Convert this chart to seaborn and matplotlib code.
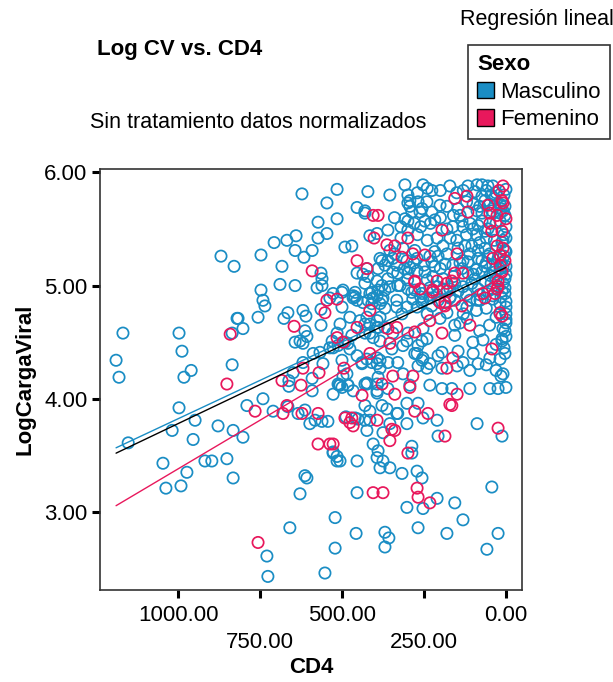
import numpy as np
import pandas as pd
import matplotlib
matplotlib.use("Agg")
import matplotlib.pyplot as plt
from matplotlib.patches import Patch
from matplotlib.ticker import FixedLocator, FormatStrFormatter
import seaborn as sns

# ---------------- data (CD4, LogCargaViral) ----------------
masculino_pts = [
    (1168,4.58),(1189,4.34),(1180,4.19),(997,4.58),(988,4.42),(960,4.25),(982,4.19),(997,3.92),
    (835,4.58),(820,4.71),(835,4.30),(1152,3.61),(1046,3.43),(1037,3.21),(1018,3.72),(973,3.35),
    (991,3.23),(954,3.64),(948,3.81),(918,3.45),(897,3.45),(878,3.76),(851,3.47),(832,3.72),
    (832,3.30),(802,3.66),(790,3.94),(741,4.00),(710,3.89),(665,3.93),(634,3.87),(613,3.90),
    (598,3.78),(561,3.80),(543,3.80),(527,3.53),(515,3.49),(613,3.32),(607,3.30),(628,3.16),
    (659,2.86),(729,2.61),(726,2.43),(552,2.46),(521,2.68),(521,2.95),
    (622,5.81),(515,5.85),(546,5.73),(573,5.56),(515,5.59),(546,5.46),(573,5.42),(640,5.44),
    (668,5.40),(707,5.38),(643,5.31),(591,5.31),(616,5.25),(747,5.27),(869,5.26),(829,5.17),
    (683,5.17),(564,5.11),(561,5.06),(689,5.01),(643,5.00),(576,4.98),(561,5.00),(747,4.96),
    (741,4.87),(735,4.82),(756,4.72),(817,4.71),(802,4.62),(665,4.76),(677,4.71),(619,4.78),
    (610,4.73),(564,4.79),(564,4.65),(613,4.60),(607,4.55),(643,4.50),(628,4.51),(619,4.49),
    (619,4.32),(567,4.41),(530,4.51),(515,4.58),(649,4.23),(591,4.18),(558,4.31),(662,4.16),
    (662,4.11),(591,4.07),(500,4.10),
    (421,5.83),(454,5.69),(430,5.66),(430,5.64),(393,5.46),(415,5.44),(491,5.34),(470,5.35),
    (384,5.24),(424,5.15),(454,5.11),(436,5.10),(421,5.08),(393,5.04),(430,5.02),(527,4.93),
    (497,4.96),(466,4.91),(460,4.90),(415,4.93),(390,4.96),
    (466,4.89),(454,4.87),(421,4.87),(405,4.89),(500,4.81),(430,4.66),(393,4.69),(393,4.63),
    (415,4.58),(537,4.45),(512,4.47),(482,4.49),(476,4.44),(454,4.38),(424,4.35),(393,4.36),
    (439,4.32),(409,4.32),(393,4.31),(588,4.40),(497,4.20),(509,4.12),(482,4.12),(527,4.04),
    (430,3.94),(424,4.14),(393,4.13),(393,4.05),(488,3.84),(451,3.82),(415,3.81),(415,3.89),
    (582,3.81),
    (308,5.89),(253,5.89),(226,5.84),(171,5.88),(116,5.88),(88,5.89),(73,5.89),(55,5.88),
    (40,5.88),(354,5.80),(299,5.80),(293,5.75),(299,5.73),(268,5.74),(241,5.74),(201,5.71),
    (73,5.79),(64,5.75),(34,5.77),(18,5.72),(293,5.70),(256,5.68),(287,5.65),(262,5.65),
    (226,5.65),(180,5.70),(146,5.68),(140,5.62),(88,5.66),(73,5.64),(43,5.66),(18,5.64),
    (9,5.66),(3,5.62),(308,5.59),(299,5.57),(247,5.57),(217,5.58),(180,5.50),(162,5.52),
    (134,5.57),(131,5.52),(110,5.55),(101,5.50),(85,5.53),(73,5.57),(64,5.48),(18,5.57),
    (0,5.42),(9,5.40),(360,5.49),(299,5.49),(354,5.31),(339,5.28),(314,5.33),(278,5.31),
    (217,5.30),(192,5.35),(180,5.28),(146,5.33),(125,5.35),(104,5.35),(85,5.31),(64,5.33),
    (49,5.28),(3,5.31),(24,5.24),(345,5.24),(333,5.18),(302,5.22),(271,5.24),(232,5.26),
    (207,5.26),(226,5.21),(217,5.17),(186,5.19),(162,5.18),(131,5.22),(116,5.21),(85,5.24),
    (73,5.22),(55,5.26),(18,5.27),(0,5.17),(390,5.15),(369,5.18),(345,5.12),(330,5.11),
    (360,5.06),(299,5.11),(247,5.12),(223,5.08),(192,5.06),(134,5.15),(116,5.11),(95,5.06),
    (73,5.12),(64,5.17),(49,5.09),(34,5.12),(18,5.15),(9,5.17),(3,5.06),(378,5.00),
    (354,4.99),(323,5.00),(299,4.97),(278,4.96),(256,4.93),(210,4.99),(171,4.97),(156,5.02),
    (146,4.95),(131,4.99),(104,5.02),(85,4.97),(64,5.04),(40,4.97),(12,4.95),
    (378,5.22),(360,5.22),(293,5.16),(271,5.13),(460,4.94),(409,4.94),(405,4.89),(393,4.91),
    (369,4.96),(375,4.89),(330,5.00),(287,4.94),(232,4.98),(192,4.97),(537,4.89),(500,4.94),
    (436,4.85),(409,4.84),(384,4.84),(369,4.80),(333,4.81),(317,4.75),(302,4.81),(271,4.81),
    (253,4.87),(232,4.89),(171,4.89),(119,4.81),(88,4.87),(40,4.91),(3,4.93),(18,4.84),
    (0,4.81),
    (378,4.87),(333,4.87),(284,4.88),(256,4.85),(226,4.82),(207,4.87),(156,4.87),(110,4.87),
    (79,4.87),(40,4.88),(18,4.75),(0,4.75),(0,4.86),(390,4.63),(299,4.58),(253,4.62),
    (201,4.71),(156,4.65),(156,4.56),(140,4.67),(119,4.71),(101,4.50),(3,4.60),(12,4.53),
    (0,4.67),(348,4.44),(314,4.47),(268,4.47),(256,4.51),(241,4.53),(278,4.40),(253,4.36),
    (207,4.38),(195,4.41),(146,4.42),(131,4.32),(85,4.31),(49,4.36),(18,4.35),(12,4.51),
    (384,4.34),(360,4.32),(330,4.32),(268,4.29),(241,4.27),(195,4.27),(149,4.29),(110,4.25),
    (9,4.22),(390,4.19),(314,4.22),(293,4.12),(232,4.12),(195,4.09),(165,4.09),(110,4.09),
    (49,4.09),(24,4.09),(393,4.07),(360,4.09),(302,3.96),(268,3.96),(330,3.87),(363,3.91),
    (378,3.94),
    (527,4.45),(491,4.50),(470,4.56),(506,4.66),(476,4.72),(445,4.69),(424,4.72),(415,4.66),
    (384,4.72),(369,4.63),(430,4.58),(405,4.54),(384,4.51),(345,4.58),(302,4.51),(384,4.27),
    (500,4.34),(485,4.22),(439,4.31),(424,4.13),(256,4.34),(271,4.40),(232,4.31),(512,4.13),
    (466,4.07),
    (506,4.12),(482,4.12),(430,4.13),(460,3.83),(430,3.81),(424,3.72),(375,3.70),(354,3.78),
    (333,3.87),(302,3.78),(253,3.83),(210,3.81),(207,3.67),(88,3.78),(12,3.67),(527,3.52),
    (515,3.45),(506,3.45),(454,3.45),(405,3.60),(390,3.54),(393,3.48),(375,3.45),(384,3.39),
    (354,3.39),(317,3.34),(287,3.58),(287,3.52),(271,3.36),(256,3.30),(454,3.17),(210,3.12),
    (302,3.04),(253,3.03),(156,3.08),(43,3.22),(131,2.93),(457,2.81),(369,2.82),(357,2.77),
    (369,2.69),(268,2.86),(180,2.81),(58,2.67),(24,2.81),
    (0,5.85),(6,5.80),(3,5.70),(15,5.68),(0,5.52),(6,5.45),(12,5.38),(0,5.30),
    (6,5.26),(15,5.20),(0,5.10),(9,5.02),(3,4.98),(15,4.90),(0,4.70),(9,4.62),
    (0,4.55),(6,4.45),(3,4.40),(15,4.20),(0,4.10),(30,5.82),(45,5.80),(60,5.84),
    (95,5.83),(130,5.84),(150,5.82),(200,5.84),(240,5.86),(270,5.82),(35,5.70),(50,5.72),
    (80,5.70),(100,5.72),(120,5.74),(160,5.62),(200,5.60),(230,5.55),(260,5.52),(280,5.55),
    (320,5.52),(340,5.60),(30,5.55),(55,5.50),(90,5.45),(120,5.45),(150,5.40),(170,5.42),
    (210,5.42),(240,5.40),(270,5.45),(320,5.42),(35,5.40),(60,5.42),(80,5.38),(110,5.28),
    (140,5.20),(200,5.15),(250,5.18),(280,5.20),(310,5.15),(40,5.18),(60,5.20),(90,5.14),
    (100,5.10),(160,5.08),(240,5.05),(300,5.05),(30,5.05),(45,5.02),(55,4.95),(80,4.92),
    (120,4.92),(170,4.90),(210,4.92),(260,4.90),(60,4.80),(90,4.78),(130,4.75),(180,4.76),
    (240,4.75),(30,4.72),(50,4.65),(80,4.60),(70,4.52),(30,4.48),(100,4.40),(60,4.30),
    (30,4.25),
]

femenino_pts = [
    (841,4.57),(851,4.13),(765,3.89),(680,3.87),(573,3.87),(573,3.60),(527,3.60),(756,2.73),
    (591,5.13),(646,4.64),(546,4.87),(515,4.88),(552,4.76),(619,4.27),(570,4.23),(683,4.16),
    (625,4.12),(494,4.27),(405,5.62),(402,5.42),(454,5.22),(424,5.15),(415,4.78),(454,4.63),
    (515,4.54),(497,4.50),(470,3.83),(439,4.03),(622,3.87),(668,3.94),
    (9,5.88),(21,5.84),(156,5.77),(119,5.79),(12,5.75),(9,5.73),(55,5.71),(116,5.65),
    (49,5.64),(27,5.62),(0,5.59),(390,5.62),(195,5.49),(49,5.55),(43,5.48),(12,5.48),
    (363,5.36),(339,5.35),(299,5.42),(247,5.27),(149,5.28),(27,5.35),(9,5.33),(18,5.27),
    (40,5.24),(3,5.22),(18,5.18),(278,5.04),(210,5.04),(180,5.02),(156,5.11),(131,5.11),
    (12,5.12),(24,5.04),(223,4.96),(180,4.95),(24,4.99),(34,4.93),(317,5.25),(284,5.28),
    (278,5.03),(262,4.97),(223,4.94),(165,5.04),(201,4.85),(186,4.85),(70,4.93),(27,4.97),
    (12,4.73),(186,4.82),(134,4.82),(64,4.89),(18,4.76),(360,4.62),(333,4.63),(278,4.59),
    (232,4.69),(195,4.58),(110,4.65),(162,4.36),(43,4.44),(180,4.27),(378,4.13),(345,4.20),
    (284,4.20),(149,4.04),(165,3.94),(339,4.04),(238,3.87),(354,4.49),(415,4.40),(293,4.10),
    (171,3.95),(491,3.83),(476,3.79),(466,3.76),(393,3.81),(348,3.73),(339,3.72),(278,3.89),
    (186,3.67),(24,3.74),(537,3.60),(299,3.52),(354,3.63),(405,3.17),(375,3.17),(271,3.21),
    (268,3.13),(232,3.08),
]

sexo_labels = ["Masculino", "Femenino"]
sexo_colors = ["#1a8dc4", "#e8185c"]

# fitted linear regressions: LogCV = intercept + slope * CD4
fit_groups = ["Masculino", "Femenino", "Total"]
fit_intercepts = [5.18, 5.10, 5.16]
fit_slopes = [-0.001357, -0.00172, -0.00138]
fit_colors = ["#1a8dc4", "#e8185c", "#000000"]

y_ticks = [3.0, 4.0, 5.0, 6.0]
x_ticks_major = [1000.0, 500.0, 0.0]
x_ticks_minor = [750.0, 250.0]

# ---------------- build tables ----------------
cd4_m, lcv_m = zip(*masculino_pts)
cd4_f, lcv_f = zip(*femenino_pts)
df = pd.DataFrame({
    "CD4": list(cd4_m) + list(cd4_f),
    "LogCargaViral": list(lcv_m) + list(lcv_f),
    "Sexo": [sexo_labels[0]] * len(cd4_m) + [sexo_labels[1]] * len(cd4_f),
})

x_lo, x_hi = df["CD4"].min(), df["CD4"].max()
fit_rows = []
for g, b0, b1 in zip(fit_groups, fit_intercepts, fit_slopes):
    for xv in np.linspace(x_lo, x_hi, 50):
        fit_rows.append({"CD4": xv, "LogCargaViral": b0 + b1 * xv, "grupo": g})
fit_df = pd.DataFrame(fit_rows)

# ---------------- plot ----------------
sns.set_style("white")
plt.rcParams["font.family"] = ["Liberation Sans", "DejaVu Sans"]
plt.rcParams["text.color"] = "black"
plt.rcParams["axes.labelcolor"] = "black"
plt.rcParams["xtick.color"] = "black"
plt.rcParams["ytick.color"] = "black"

fig = plt.figure(figsize=(6.13, 6.82), dpi=100)
ax = fig.add_axes([100 / 613, 1 - 590 / 682, 422 / 613, 421 / 682])

sns.scatterplot(data=df, x="CD4", y="LogCargaViral", hue="Sexo",
                hue_order=sexo_labels, palette=sexo_colors, marker="o",
                s=66, legend=False, ax=ax)
pts = ax.collections[-1]
fc = pts.get_facecolors()
pts.set_edgecolors(fc)
pts.set_facecolors("none")
pts.set_linewidths(1.25)

sns.lineplot(data=fit_df, x="CD4", y="LogCargaViral", hue="grupo",
             hue_order=fit_groups, palette=fit_colors, linewidth=1.0,
             legend=False, ax=ax, sort=True, estimator=None)

ax.set_xlim(1238, -49)
ax.set_ylim(2.31, 6.03)

ax.yaxis.set_major_locator(FixedLocator(y_ticks))
ax.yaxis.set_major_formatter(FormatStrFormatter("%.2f"))
ax.xaxis.set_major_locator(FixedLocator(x_ticks_major))
ax.xaxis.set_minor_locator(FixedLocator(x_ticks_minor))
ax.xaxis.set_major_formatter(FormatStrFormatter("%.2f"))
ax.xaxis.set_minor_formatter(FormatStrFormatter("%.2f"))

ax.tick_params(axis="both", which="both", direction="out", length=6, width=2.2,
               color="black", labelsize=16, labelcolor="black")
ax.tick_params(axis="x", which="major", pad=5)
ax.tick_params(axis="x", which="minor", pad=24)
ax.tick_params(axis="y", which="major", pad=3, left=True)
ax.tick_params(axis="x", which="both", bottom=True)

for sp in ax.spines.values():
    sp.set_color("#333333")
    sp.set_linewidth(1.2)

ax.set_xlabel("CD4", fontsize=16, fontweight="bold", labelpad=3, color="black")
ax.set_ylabel("LogCargaViral", fontsize=16, fontweight="bold", labelpad=6, color="black")

fig.text(97 / 613, 1 - 50 / 682, "Log CV vs. CD4", fontsize=16,
         fontweight="bold", ha="left", va="center", color="black")
fig.text(90 / 613, 1 - 123 / 682, "Sin tratamiento datos normalizados",
         fontsize=15.5, ha="left", va="center", color="black")
fig.text(537 / 613, 1 - 20 / 682, "Regresión lineal", fontsize=15.5,
         ha="center", va="center", color="black")

handles = [Patch(facecolor=c, edgecolor="black", linewidth=1.0) for c in sexo_colors]
leg = fig.legend(handles, sexo_labels, title="Sexo", loc="upper left",
                 bbox_to_anchor=(468 / 613, 1 - 45 / 682), frameon=True,
                 fancybox=False, fontsize=16,
                 title_fontproperties={"weight": "bold", "size": 16},
                 alignment="left", handlelength=0.75, handleheight=0.75,
                 handletextpad=0.3, labelspacing=0.3, borderpad=0.4,
                 borderaxespad=0.0, labelcolor="black")
leg.get_title().set_color("black")
leg.get_frame().set_edgecolor("black")
leg.get_frame().set_linewidth(1.2)

fig.savefig("out.png", dpi=100)
